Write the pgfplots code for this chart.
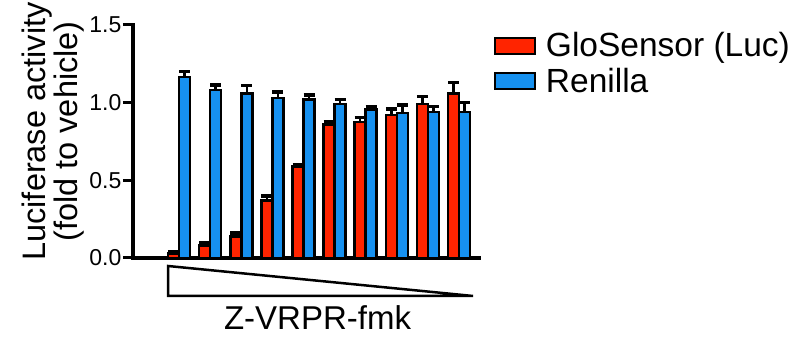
\documentclass[border=0pt]{standalone}
\usepackage{pgfplots}
\pgfplotsset{compat=1.18}
\usepackage{fontspec}
\setmainfont{Liberation Sans}
\definecolor{glored}{RGB}{255,36,0}
\definecolor{renblue}{RGB}{22,145,240}
\begin{document}
\begin{tikzpicture}
\begin{axis}[
  at={(0,0)}, anchor=south west,
  scale only axis, width=346pt, height=233pt,
  xmin=-0.48, xmax=10.64, ymin=0, ymax=1.5,
  axis x line*=bottom, axis y line*=left,
  axis line style={line width=3.5pt, line cap=rect},
  xtick=\empty,
  ytick={0,0.5,1,1.5},
  yticklabel style={/pgf/number format/fixed, /pgf/number format/precision=1, /pgf/number format/fixed zerofill, font=\fontsize{23}{24}\selectfont, inner xsep=1.5pt},
  /pgf/number format/assume math mode=true,
  tick align=outside, major tick length=10pt,
  every tick/.style={black, line width=3pt},
  ylabel={Luciferase activity\\(fold to vehicle)},
  ylabel style={at={(ticklabel cs:0.543)}, align=center, font=\fontsize{32.5}{32}\selectfont},
  ybar=0pt, bar width=11pt,
  clip=false,
  legend style={at={(1.034,0.985)}, anchor=north west, draw=none, font=\fontsize{33.5}{35}\selectfont, row sep=6pt, column sep=8pt, legend cell align=left},
  legend image code/.code={\draw[#1, line width=2pt] (0pt,-8pt) rectangle (40pt,8pt);},
  error bars/y dir=plus, error bars/y explicit,
  error bars/error bar style={line width=2.5pt, black},
  error bars/error mark options={rotate=90, mark size=5.5pt, line width=3.5pt, black},
]
\addplot[fill=glored, draw=black, line width=2.5pt] coordinates {
 (1,0.03) +- (0,0.01)
 (2,0.08) +- (0,0.02)
 (3,0.14) +- (0,0.02)
 (4,0.37) +- (0,0.03)
 (5,0.59) +- (0,0.01)
 (6,0.86) +- (0,0.02)
 (7,0.875) +- (0,0.03)
 (8,0.92) +- (0,0.04)
 (9,0.99) +- (0,0.05)
 (10,1.06) +- (0,0.07)
};
\addplot[fill=renblue, draw=black, line width=2.5pt] coordinates {
 (1,1.165) +- (0,0.035)
 (2,1.08) +- (0,0.035)
 (3,1.06) +- (0,0.05)
 (4,1.03) +- (0,0.04)
 (5,1.02) +- (0,0.03)
 (6,0.99) +- (0,0.03)
 (7,0.955) +- (0,0.02)
 (8,0.935) +- (0,0.05)
 (9,0.94) +- (0,0.035)
 (10,0.94) +- (0,0.06)
};
\legend{GloSensor (Luc), Renilla}
\draw[line width=2.5pt, line join=miter] (axis cs:0.646,-0.0515) -- (axis cs:0.646,-0.2446) -- (axis cs:10.45,-0.2446) -- cycle;
\node[font=\fontsize{33}{35}\selectfont] at (axis cs:5.45,-0.386) {Z-VRPR-fmk};
\end{axis}
\pgfresetboundingbox
\path[use as bounding box] (-133pt,-81pt) rectangle (667pt,258pt);
\end{tikzpicture}
\end{document}
